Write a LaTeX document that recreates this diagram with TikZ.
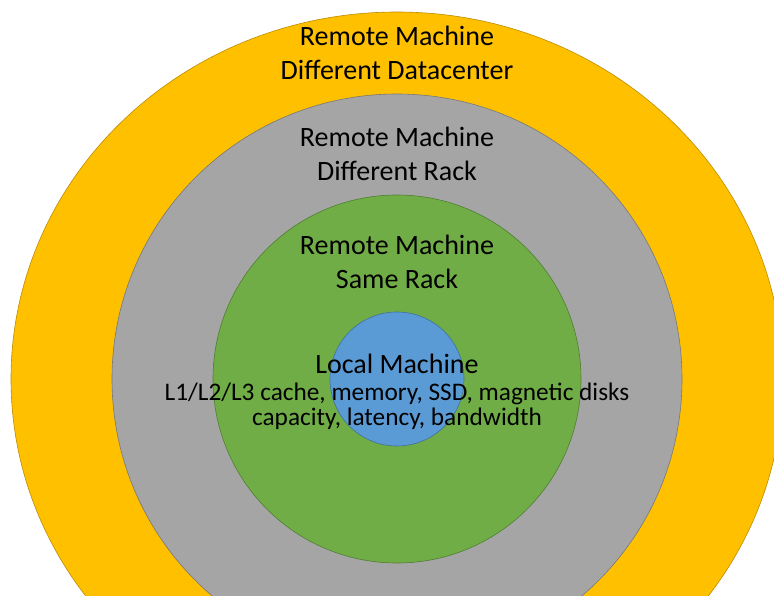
\documentclass[tikz,border=0pt]{standalone}
\usepackage{fontspec}
\setmainfont{Carlito}
\usetikzlibrary{positioning}
\definecolor{dcfill}{HTML}{FFC000}
\definecolor{dcline}{HTML}{BC8C00}
\definecolor{rackfill}{HTML}{A5A5A5}
\definecolor{rackline}{HTML}{787878}
\definecolor{samefill}{HTML}{70AD47}
\definecolor{sameline}{HTML}{507E32}
\definecolor{localfill}{HTML}{5B9BD5}
\definecolor{localline}{HTML}{41719C}

\begin{document}
\begin{tikzpicture} [x=1pt,y=1pt,{ring/.style={line width=0.6pt}},{ringtext/.style={align=center,inner sep=0pt,font=\fontsize{28}{34}\selectfont}},{smalltext/.style={align=center,inner sep=0pt,font=\fontsize{25.3}{25}\selectfont}}]
	\useasboundingbox (0,0) rectangle (774,595);
	\clip (0,0) rectangle (774,595);
	%%centre of the rings
	\coordinate (O) at (397,216);
	%%rings
	\draw [ring,fill=dcfill,draw=dcline](O) ellipse [x radius=386,y radius=367];
	\draw [ring,fill=rackfill,draw=rackline](O) circle [radius=285];
	\draw [ring,fill=samefill,draw=sameline](O) circle [radius=184];
	\draw [ring,fill=localfill,draw=localline](O) circle [radius=67];
	
	%%labels
	\node [ringtext] (dc) at (397,542) {Remote Machine\\Different Datacenter};
	\node [ringtext] (rack) at (397,441) {Remote Machine\\Different Rack};
	\node [ringtext] (same) at (397,333) {Remote Machine\\Same Rack};
	\node [ringtext] (local) at (397,231) {Local Machine};
	\node [smalltext] (detail) at (397,189) {L1/L2/L3 cache, memory, SSD, magnetic disks\\capacity, latency, bandwidth};

	\end{tikzpicture}
\end{document}
